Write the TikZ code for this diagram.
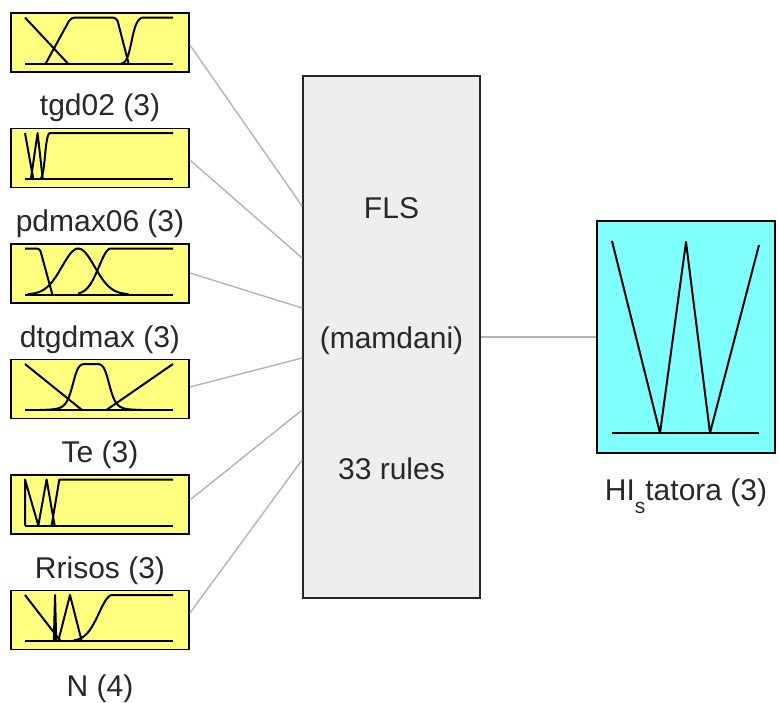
\documentclass[tikz,border=0pt]{standalone}
\usepackage{fontspec}
\setmainfont{Liberation Sans}
\definecolor{inyellow}{RGB}{255,255,128}
\definecolor{outcyan}{RGB}{128,255,255}
\definecolor{flsgray}{RGB}{238,238,238}
\definecolor{wiregray}{RGB}{180,180,180}
\definecolor{txt}{RGB}{40,40,40}
\begin{document}
\begin{tikzpicture}[x=1pt,y=-1pt,
  inbox/.style={draw=black, line width=1.8pt, fill=inyellow, minimum width=178pt, minimum height=59pt, inner sep=0pt},
  outbox/.style={draw=black, line width=1.8pt, fill=outcyan, minimum width=178pt, minimum height=232pt, inner sep=0pt},
  flsbox/.style={draw=black!85, line width=1.8pt, fill=flsgray, minimum width=177pt, minimum height=522pt, inner sep=0pt},
  lbl/.style={anchor=base, text=txt, font=\fontsize{30}{35}\selectfont, inner sep=0pt},
  wire/.style={draw=wiregray, line width=1.4pt},
  mf/.style={line width=2pt, black, line join=round}]
\useasboundingbox (0,0) rectangle (779,702);

% FLS block
\node[flsbox] (fls) at (391.5,337) {};
\node[lbl] (t1) at (391.5,218) {FLS};
\node[lbl] (t2) at (391.5,348) {(mamdani)};
\node[lbl] (t3) at (391.5,479) {33 rules};

% input boxes
\node[inbox] (in1) at (100,42.5) {};
\node[inbox] (in2) at (100,158) {};
\node[inbox] (in3) at (100,273.5) {};
\node[inbox] (in4) at (100,389) {};
\node[inbox] (in5) at (100,504.5) {};
\node[inbox] (in6) at (100,620) {};

\node[lbl] (l1) at (100,115) {tgd02 (3)};
\node[lbl] (l2) at (100,231) {pdmax06 (3)};
\node[lbl] (l3) at (100,347) {dtgdmax (3)};
\node[lbl] (l4) at (100,462) {Te (3)};
\node[lbl] (l5) at (100,578) {Rrisos (3)};
\node[lbl] (l6) at (100,696) {N (4)};

% output box
\node[outbox] (out) at (686,337) {};
\node[lbl] (lo) at (686,500) {HI\raisebox{-0.45em}{\fontsize{21}{21}\selectfont s}tatora (3)};

% connectors
\draw[wire] ([yshift=-2.5pt]in1.east) -- ([yshift=131pt]fls.west);
\draw[wire] ([yshift=-2pt]in2.east) -- ([yshift=79pt]fls.west);
\draw[wire] ([yshift=0.5pt]in3.east) -- ([yshift=29pt]fls.west);
\draw[wire] ([yshift=2pt]in4.east) -- ([yshift=-21pt]fls.west);
\draw[wire] ([yshift=4.5pt]in5.east) -- ([yshift=-73pt]fls.west);
\draw[wire] ([yshift=7pt]in6.east) -- ([yshift=-123pt]fls.west);
\draw[wire] (fls.east) -- (out.west);

% MF plots: tgd02
\begin{scope}[shift={(25,63.5)}, x=148pt, y=46pt]
  \draw[mf] (0,0) -- (1,0);
  \draw[mf] (0,1) -- (0.29,0);
  \draw[mf, rounded corners=4pt] (0.14,0) -- (0.31,1) -- (0.62,1) -- (0.70,0);
  \draw[mf] (0.65,0) .. controls (0.73,0) and (0.71,1) .. (0.80,1) -- (1,1);
\end{scope}
% pdmax06
\begin{scope}[shift={(25,179)}, x=148pt, y=46pt]
  \draw[mf] (0,0) -- (1,0);
  \draw[mf] (0,1) -- (0.056,0);
  \draw[mf] (0.04,0) -- (0.085,1) -- (0.12,0);
  \draw[mf] (0.10,0) .. controls (0.14,0) and (0.13,1) .. (0.17,1) -- (1,1);
\end{scope}
% dtgdmax
\begin{scope}[shift={(25,294.5)}, x=148pt, y=46pt]
  \draw[mf] (0,0) -- (1,0);
  \draw[mf, rounded corners=3pt] (0,1) -- (0.10,1) -- (0.185,0);
  \draw[mf] plot[domain=0.02:0.70, samples=60, smooth] (\x, {exp(-((\x-0.36)^2)/(2*0.11^2))});
  \draw[mf] plot[domain=0.36:0.58, samples=40, smooth] (\x, {exp(-((\x-0.58)^2)/(2*0.08^2))}) -- (1,1);
\end{scope}
% Te
\begin{scope}[shift={(25,410)}, x=148pt, y=46pt]
  \draw[mf] (0,0) -- (1,0);
  \draw[mf] (0,1) -- (0.385,0);
  \draw[mf] plot[domain=0.10:0.79, samples=91, smooth] (\x, {1/(1+(abs((\x-0.4461)/0.128))^6)});
  \draw[mf] (0.55,0) -- (1,1);
\end{scope}
% Rrisos
\begin{scope}[shift={(25,525.5)}, x=148pt, y=46pt]
  \draw[mf] (0,0) -- (1,0);
  \draw[mf] (0,0) -- (0,1) -- (0.09,0);
  \draw[mf] (0.09,0) -- (0.146,1) -- (0.20,0);
  \draw[mf] (0.18,0) -- (0.232,1) -- (1,1);
\end{scope}
% N
\begin{scope}[shift={(25,641)}, x=148pt, y=46pt]
  \draw[mf] (0,0) -- (1,0);
  \draw[mf] (0,1) -- (0.24,0);
  \draw[mf] (0.195,0) -- (0.203,1) -- (0.211,0);
  \draw[mf] (0.225,0) -- (0.304,1) -- (0.383,0);
  \draw[mf] plot[domain=0.33:0.59, samples=40, smooth] (\x, {exp(-((\x-0.59)^2)/(2*0.09^2))}) -- (1,1);
\end{scope}

% output MFs
\draw[mf] (612,433) -- (759,433);
\draw[mf] (612,241) -- (660,433) -- (686,242) -- (710,433) -- (759,245);
\end{tikzpicture}
\end{document}
